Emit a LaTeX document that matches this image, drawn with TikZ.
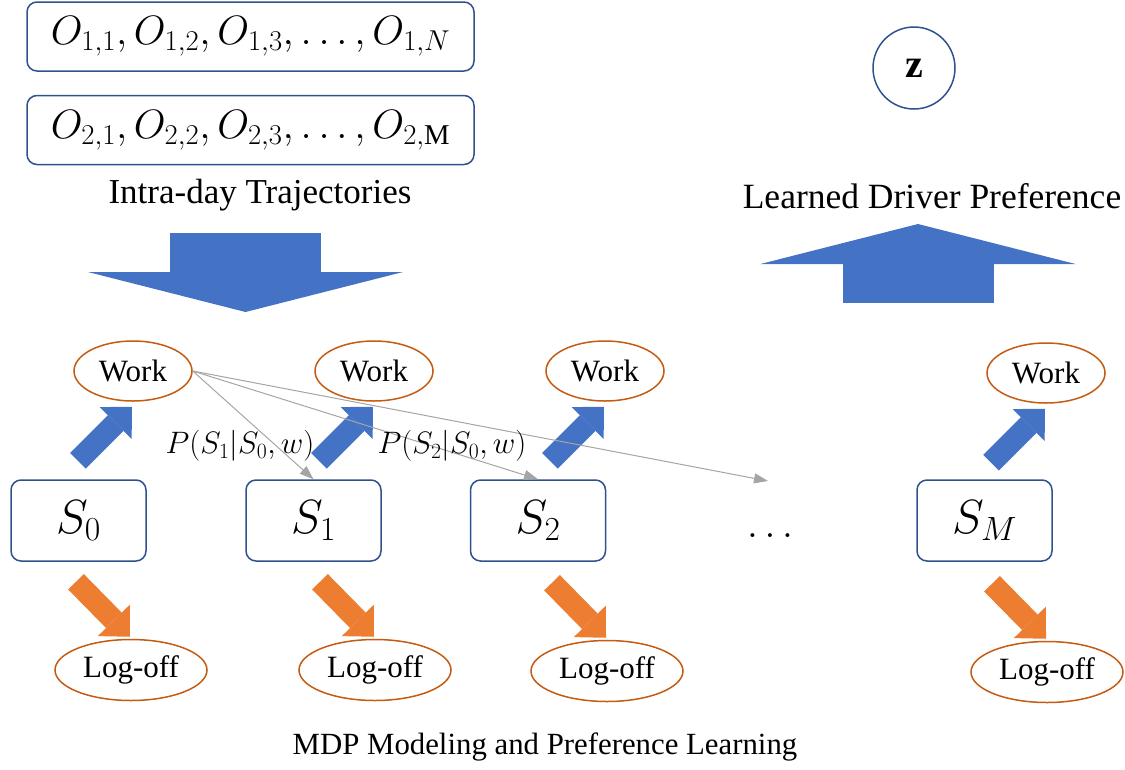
\documentclass[tikz,border=0pt]{standalone}
\usepackage{fix-cm}
\usepackage{fontspec}
\setmainfont{Liberation Serif}
\usetikzlibrary{positioning}
\usetikzlibrary{arrows.meta,shapes,calc}
\definecolor{boxblue}{HTML}{2F528F}
\definecolor{fillblue}{HTML}{4472C4}
\definecolor{offorange}{HTML}{ED7D31}
\definecolor{ellorange}{HTML}{C55A11}
\definecolor{linkgray}{HTML}{A5A5A5}
\tikzset{
  trajbox/.style = {draw=boxblue, line width=1.5pt, rounded corners=10pt, minimum width=447pt,
                   minimum height=69pt, inner sep=0pt, font=\fontsize{41}{46}\selectfont},
  state/.style   = {draw=boxblue, line width=1.5pt, rounded corners=10pt, minimum width=135pt,
                   minimum height=81pt, font=\fontsize{48}{52}\selectfont},
  action/.style  = {draw=ellorange, line width=1.5pt, ellipse, inner sep=0pt, font=\fontsize{31}{34}\selectfont},
  work/.style    = {action, minimum width=118pt, minimum height=60pt},
  logoff/.style  = {action, minimum width=152pt, minimum height=61pt},
  zcircle/.style = {draw=boxblue, line width=1.5pt, circle, minimum size=82pt, font=\fontsize{40}{44}\selectfont\bfseries},
  caption/.style = {font=\fontsize{35}{40}\selectfont},
  problabel/.style = {font=\fontsize{31}{34}\selectfont},
  upto/.style    = {line width=22pt, fillblue, -{Triangle[length=23pt,width=45pt,line width=0pt]}},
  downto/.style  = {upto, offorange},
  bigarrow/.style = {line width=151pt, fillblue, -{Triangle[length=40pt,width=315pt,line width=0pt]}},
  trans/.style   = {linkgray, line width=1pt, -{Triangle[length=14pt,width=10pt]}}
}

\begin{document}
\begin{tikzpicture}[x=1pt,y=-1pt]
\useasboundingbox (0,0) rectangle (1125,769);

% trajectories
\node[trajbox] (o1) at (250.5,36.5) {$O_{1,1}, O_{1,2}, O_{1,3}, \ldots, O_{1,N}$};
\node[trajbox, below=23pt of o1] (o2) {$O_{2,1}, O_{2,2}, O_{2,3}, \ldots, O_{2,\mathrm{M}}$};
\node[caption] (traj) at (260,195) {Intra-day Trajectories};

% preference
\node[zcircle] (z) at (914,68) {z};
\node[caption, font=\fontsize{35.5}{40}\selectfont] (pref) at (932,196) {Learned Driver Preference};

\coordinate (trajout) at (245.5,233);
\coordinate (mdpin) at (245.5,312);
\coordinate (mdpout) at (918,303);
\coordinate (prefin) at (918,224);
\draw[bigarrow] (trajout) -- (mdpin);
\draw[bigarrow] (mdpout) -- (prefin);

% states
\node[state] (s0) at (78.5,520.5) {$S_0$};
\node[state] (s1) at (313.5,520.5) {$S_1$};
\node[state] (s2) at (538,520.5) {$S_2$};
\node[state] (sm) at (984.5,520.5) {$S_M$};
\node[font=\fontsize{40}{44}\selectfont] (dots) at (770,536) {$\ldots$};

\node[work] (w0) at (133,371) {Work};
\node[work] (w1) at (374,371) {Work};
\node[work] (w2) at (605,371) {Work};
\node[work] (wm) at (1046,373) {Work};

\node[logoff] (l0) at (131,670) {Log-off};
\node[logoff] (l1) at (375,670) {Log-off};
\node[logoff] (l2) at (607,671) {Log-off};
\node[logoff] (lm) at (1047,672) {Log-off};

\foreach \w in {w0,w1,w2,wm}
  \draw[upto] ($(\w.south)+(-55,59)$) -- ($(\w.south)+(-1,5)$);
\foreach \l in {l0,l1,l2,lm}
  \draw[downto] ($(\l.north)+(-55,-57)$) -- ($(\l.north)+(-1,-2)$);

% transitions
\coordinate (nextstate) at (768,481);
\draw[trans] (w0.east) -- (s1.north);
\draw[trans] (w0.east) -- (s2.north);
\draw[trans] (w0.east) -- (nextstate);

\node[problabel] (p1) at (240,446) {$P(S_1|S_0,w)$};
\node[problabel] (p2) at (452,446) {$P(S_2|S_0,w)$};

\node[caption, font=\fontsize{30.8}{34}\selectfont] (mdp) at (545,747) {MDP Modeling and Preference Learning};
\end{tikzpicture}
\end{document}
